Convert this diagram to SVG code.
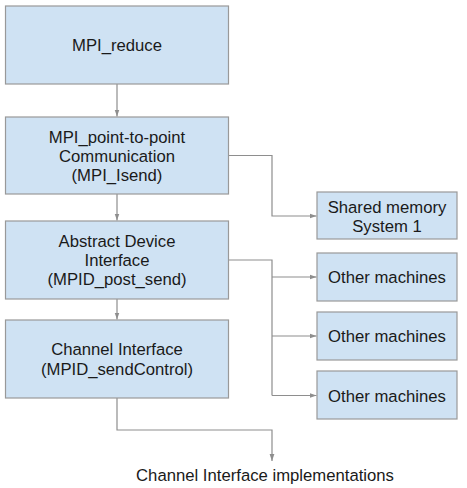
<svg xmlns="http://www.w3.org/2000/svg" width="467" height="488" viewBox="0 0 467 488">
<style>
.box{fill:#cfe2f3;stroke:#999999;stroke-width:1.2}
.t{font-family:"Liberation Sans",Arial,sans-serif;font-size:16.7px;fill:#1a1a1a;text-anchor:middle}
.c{fill:none;stroke:#8e8e8e;stroke-width:1.2}
</style>
<defs>
<marker id="ah" markerWidth="8" markerHeight="6" refX="7" refY="3" orient="auto" markerUnits="userSpaceOnUse">
<path d="M0,0.6 L7,3 L0,5.4 Z" fill="#8e8e8e"/>
</marker>
</defs>
<rect width="467" height="488" fill="#ffffff"/>
<g id="connectors">
<path class="c" d="M117,84 V116.5" marker-end="url(#ah)"/>
<path class="c" d="M117,194 V220.5" marker-end="url(#ah)"/>
<path class="c" d="M117,299 V319.5" marker-end="url(#ah)"/>
<path class="c" d="M228.5,155.5 H272 V216 H316.5" marker-end="url(#ah)"/>
<path class="c" d="M228.5,260 H272 V395.5"/>
<path class="c" d="M272,277 H316.5" marker-end="url(#ah)"/>
<path class="c" d="M272,336 H316.5" marker-end="url(#ah)"/>
<path class="c" d="M272,395.5 H316.5" marker-end="url(#ah)"/>
<path class="c" d="M117,398 V430 H272 V461" marker-end="url(#ah)"/>
</g>
<g id="mpi_reduce">
<rect class="box" x="5.5" y="6" width="223" height="78"/>
<text class="t" x="117" y="51">MPI_reduce</text>
</g>
<g id="mpi_p2p">
<rect class="box" x="5.5" y="117" width="223" height="77"/>
<text class="t" x="117" y="142.7">MPI_point-to-point</text>
<text class="t" x="117" y="162">Communication</text>
<text class="t" x="117" y="181.3">(MPI_Isend)</text>
</g>
<g id="adi">
<rect class="box" x="5.5" y="221" width="223" height="78"/>
<text class="t" x="117" y="246.7">Abstract Device</text>
<text class="t" x="117" y="266">Interface</text>
<text class="t" x="117" y="285.3">(MPID_post_send)</text>
</g>
<g id="channel">
<rect class="box" x="5.5" y="320" width="223" height="78"/>
<text class="t" x="117" y="355.3">Channel Interface</text>
<text class="t" x="117" y="375">(MPID_sendControl)</text>
</g>
<g id="shared">
<rect class="box" x="317" y="192" width="140" height="47"/>
<text class="t" x="387" y="212.7">Shared memory</text>
<text class="t" x="387" y="231.7">System 1</text>
</g>
<g id="other1">
<rect class="box" x="317" y="253" width="140" height="48"/>
<text class="t" x="387" y="282.7">Other machines</text>
</g>
<g id="other2">
<rect class="box" x="317" y="312" width="140" height="48"/>
<text class="t" x="387" y="342">Other machines</text>
</g>
<g id="other3">
<rect class="box" x="317" y="371" width="140" height="48"/>
<text class="t" x="387" y="401.5">Other machines</text>
</g>
<g id="impl">
<text class="t" x="265" y="481">Channel Interface implementations</text>
</g>
</svg>
